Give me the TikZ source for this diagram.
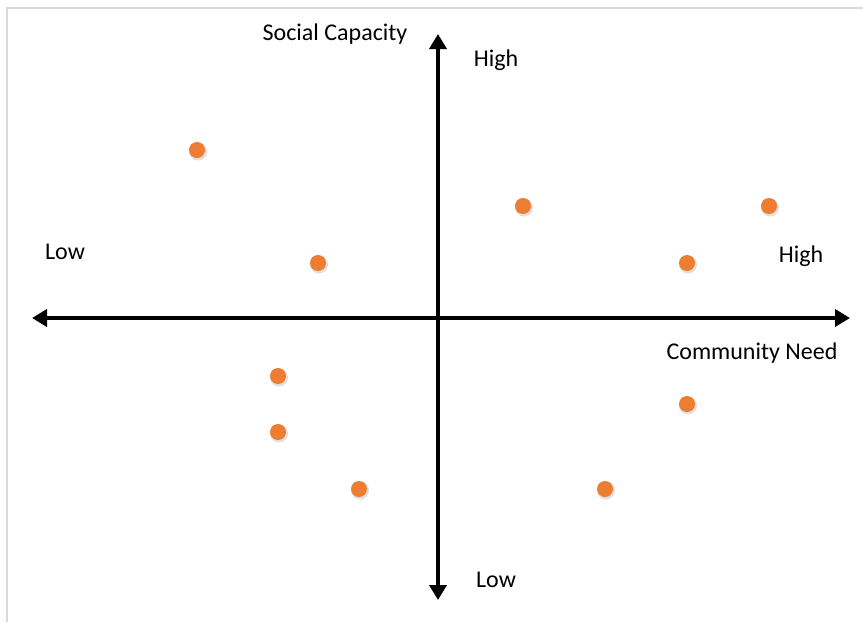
\documentclass[tikz,border=0pt]{standalone}
\usepackage{fontspec}
\setmainfont{Carlito}
\usetikzlibrary{arrows.meta}
\definecolor{dotorange}{HTML}{ED7D31}
\definecolor{framegray}{HTML}{DADADA}
\begin{document}
\begin{tikzpicture}[x=1pt,y=-1pt,
  axis/.style={line width=4.5pt,-{Triangle[length=15pt,width=17pt]}},
  lbl/.style={font=\fontsize{24}{28}\selectfont,inner sep=0pt},
  pt/.style={circle,fill=dotorange,minimum size=16pt,inner sep=0pt,
    draw=none}]
\useasboundingbox (0,0) rectangle (863,622);
\fill[white] (0,0) rectangle (863,622);
\draw[framegray,line width=2pt] (7,622) -- (7,8) -- (863,8);
\coordinate (c) at (438,318);
\coordinate (top) at (438,34);
\coordinate (bot) at (438,600);
\coordinate (lft) at (32,318);
\coordinate (rgt) at (850,318);
\draw[axis] (c) -- (top);
\draw[axis] (c) -- (bot);
\draw[axis] (c) -- (lft);
\draw[axis] (c) -- (rgt);
\node[lbl] (sc) at (335,34) {Social Capacity};
\node[lbl] (hi1) at (496,60) {High};
\node[lbl] (lo1) at (65,252) {Low};
\node[lbl] (hi2) at (801,256) {High};
\node[lbl] (cn) at (752,353) {Community Need};
\node[lbl] (lo2) at (496,580) {Low};
\foreach \n/\x/\y in {p1/197/150,p2/318/263,p3/523/206,p4/769/206,p5/687/263,
  p6/278/376,p7/278/432,p8/359/489,p9/687/404,p10/605/489}{
  \fill[black!12] (\x+1,\y+1.5) circle (9pt);
  \node[pt] (\n) at (\x,\y) {};
}
\end{tikzpicture}
\end{document}
